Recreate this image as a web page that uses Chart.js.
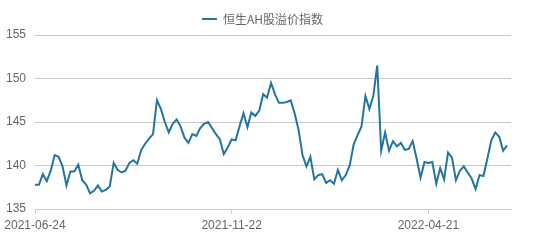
<!DOCTYPE html>
<html>
<head>
<meta charset="utf-8">
<script src="https://cdn.jsdelivr.net/npm/chart.js@4"></script>
<style>
html,body{margin:0;padding:0;background:#fff;}
#wrap{width:536px;height:241px;position:relative;}
</style>
</head>
<body>
<div id="wrap"><canvas id="c" width="536" height="241"></canvas></div>
<script>
const seriesName = '恒生AH股溢价指数';
const tickLabels = ['2021-06-24', '2021-11-22', '2022-04-21'];
const tickIndex = [0, 50, 100];
const yTicks = [135, 140, 145, 150, 155];
const values = [
  137.8, 137.8, 139.0, 138.2, 139.4, 141.2, 141.0, 139.9, 137.7, 139.3,
  139.3, 140.1, 138.3, 137.8, 136.8, 137.1, 137.7, 137.0, 137.2, 137.6,
  140.3, 139.5, 139.2, 139.4, 140.3, 140.6, 140.2, 141.8, 142.5, 143.1,
  143.6, 147.5, 146.5, 145.0, 143.8, 144.8, 145.3, 144.5, 143.2, 142.6,
  143.6, 143.4, 144.3, 144.8, 145.0, 144.3, 143.6, 143.0, 141.3, 142.1,
  143.0, 142.9, 144.5, 146.0, 144.4, 146.1, 145.7, 146.3, 148.2, 147.8,
  149.5, 148.2, 147.2, 147.2, 147.3, 147.5, 146.0, 144.1, 141.2, 139.9,
  141.0, 138.4, 138.9, 139.0, 138.0, 138.3, 137.9, 139.5, 138.3, 138.9,
  140.0, 142.4, 143.5, 144.5, 148.0, 146.5, 148.0, 151.5, 141.7, 143.8,
  141.7, 142.8, 142.2, 142.6, 141.8, 141.9, 142.8, 140.8, 138.6, 140.4,
  140.3, 140.4, 137.9, 139.7, 138.4, 141.5, 140.9, 138.3, 139.4, 139.9,
  139.2, 138.5, 137.3, 138.9, 138.8, 140.8, 142.9, 143.8, 143.3, 141.7,
  142.3
];
const labels = [];
for (let i = 0; i <= values.length; i++) {
  const k = tickIndex.indexOf(i);
  labels.push(k >= 0 ? tickLabels[k] : '');
}
const lineColor = '#23759f';
const textColor = '#666666';
const legendShift = {
  id: 'legendShift',
  afterLayout(chart) {
    if (chart.legend) { chart.legend.left += 7; chart.legend.right += 7; }
  }
};
new Chart(document.getElementById('c'), {
  type: 'line',
  data: {
    labels: labels,
    datasets: [{
      label: seriesName,
      data: values,
      borderColor: lineColor,
      backgroundColor: lineColor,
      borderWidth: 2,
      pointRadius: 0,
      tension: 0,
      fill: false
    }]
  },
  plugins: [legendShift],
  options: {
    responsive: false,
    animation: false,
    layout: { padding: { top: 3, right: 25, left: 0, bottom: 0 } },
    plugins: {
      legend: {
        position: 'top',
        labels: {
          boxWidth: 15,
          boxHeight: 2,
          color: textColor,
          font: { family: '"Noto Sans CJK SC", "Liberation Sans", sans-serif', size: 12 },
          generateLabels: (chart) => Chart.defaults.plugins.legend.labels.generateLabels(chart).map(l => Object.assign(l, { lineWidth: 0 }))
        }
      },
      tooltip: { enabled: false }
    },
    scales: {
      x: {
        type: 'category',
        offset: false,
        afterBuildTicks: (scale) => { scale.ticks = scale.ticks.filter(t => tickIndex.includes(t.value)); },
        afterFit: (scale) => { scale.height = 32; },
        grid: { display: true, drawOnChartArea: false, drawTicks: true, tickLength: 5, color: '#c0d0e0', tickColor: '#c0d0e0' },
        border: { display: true, color: '#c0d0e0', width: 1 },
        ticks: {
          autoSkip: false, maxRotation: 0, minRotation: 0, padding: 4,
          color: textColor,
          font: { family: '"Liberation Sans", Arial, sans-serif', size: 12 }
        }
      },
      y: {
        min: 135, max: 155,
        afterBuildTicks: (scale) => { scale.ticks = yTicks.map(v => ({ value: v })); },
        afterFit: (scale) => { scale.width = 35; },
        grid: { color: (ctx) => ctx.tick && ctx.tick.value === 135 ? 'rgba(0,0,0,0)' : '#c8c8c8', drawTicks: false, lineWidth: 1 },
        border: { display: false },
        ticks: {
          padding: 9,
          color: textColor,
          font: { family: '"Liberation Sans", Arial, sans-serif', size: 12 }
        }
      }
    }
  }
});
</script>
</body>
</html>
